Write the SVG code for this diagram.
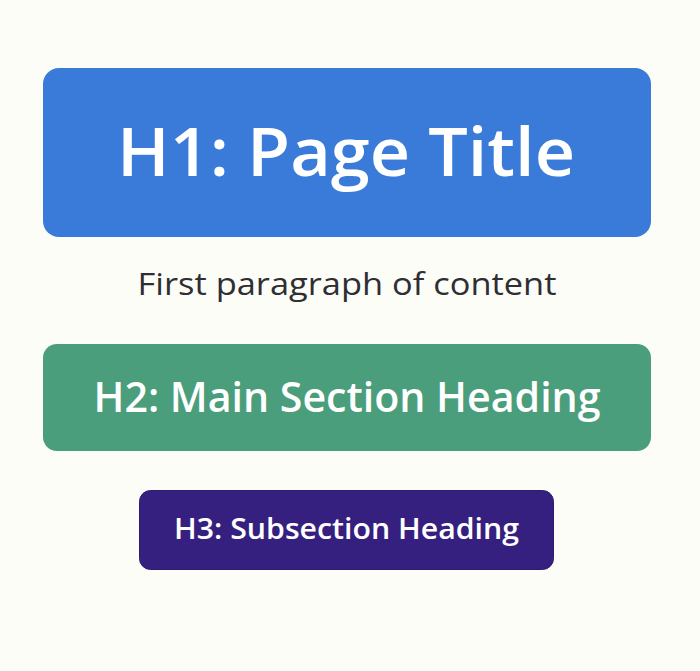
<svg xmlns="http://www.w3.org/2000/svg" width="700" height="671" viewBox="0 0 700 671">
<style>
text{font-family:"Open Sans","Liberation Sans",sans-serif;text-anchor:middle}
.h{fill:#ffffff;font-weight:600}
</style>
<rect width="700" height="671" fill="#fdfdf8"/>
<g id="h1">
<rect x="43" y="68" width="608" height="169" rx="16" fill="#3a7bd9"/>
<text class="h" x="346" y="176" font-size="67" font-weight="700" textLength="458" lengthAdjust="spacingAndGlyphs">H1: Page Title</text>
</g>
<g id="para">
<text x="347" y="295" font-size="31" fill="#2e2e33" textLength="419" lengthAdjust="spacingAndGlyphs">First paragraph of content</text>
</g>
<g id="h2">
<rect x="43" y="344" width="608" height="107" rx="14" fill="#4a9e7b"/>
<text class="h" x="347" y="412" font-size="41" textLength="507" lengthAdjust="spacingAndGlyphs">H2: Main Section Heading</text>
</g>
<g id="h3">
<rect x="139.5" y="490.5" width="414" height="79" rx="11" fill="#35207f" stroke="#2c1a73" stroke-width="1"/>
<text class="h" x="346.5" y="539" font-size="29" textLength="345" lengthAdjust="spacingAndGlyphs">H3: Subsection Heading</text>
</g>
<g id="connectors"/>
</svg>
